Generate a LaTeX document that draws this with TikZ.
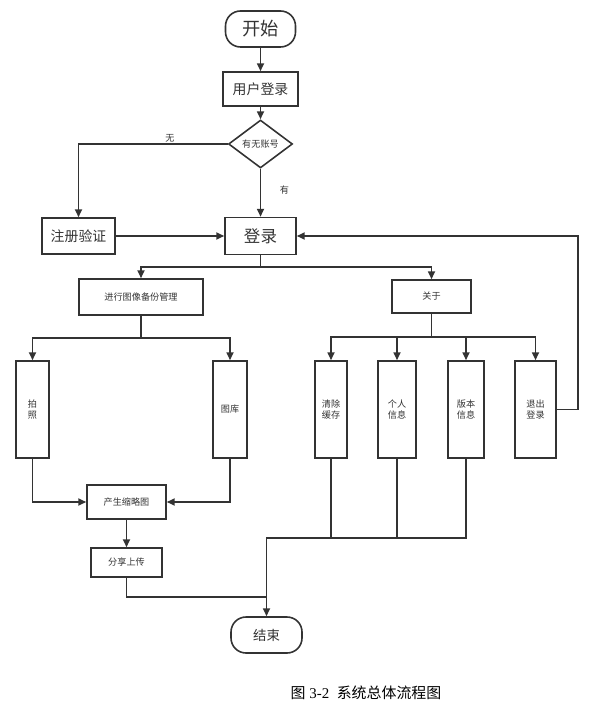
\documentclass[tikz,border=0pt]{standalone}
\usepackage{fontspec}
\setmainfont{Liberation Serif}
\newfontfamily\cjk{Noto Sans CJK SC}
\usetikzlibrary{shapes.geometric,arrows.meta}
\definecolor{ink}{HTML}{333333}

\begin{document}
\begin{tikzpicture}[
  box/.style={draw=ink,line width=0.9pt,inner sep=0pt,text=ink,align=center,
    font=\cjk\fontsize{5.2}{6.3}\selectfont},
  term/.style={box,rounded corners=0.3cm},
  link/.style={draw=ink,line width=0.9pt},
  arr/.style={link,-{Triangle[length=4.5pt,width=4pt]}}
]
  \useasboundingbox (0,0) rectangle (12.18,-14.36);

  % main column
  \node[term,minimum width=1.40cm,minimum height=0.72cm,
    font=\cjk\fontsize{10.4}{12}\selectfont] (start) at (5.21,-0.58) {开始};
  \node[box,minimum width=1.50cm,minimum height=0.68cm,
    font=\cjk\fontsize{7.9}{9}\selectfont] (user) at (5.21,-1.78) {用户登录};
  \node[box,diamond,aspect=1.33,minimum width=1.28cm,minimum height=0.96cm] (acct) at (5.21,-2.88) {有无账号};
  \node[box,minimum width=1.46cm,minimum height=0.72cm,
    font=\cjk\fontsize{7.9}{9}\selectfont] (reg) at (1.57,-4.72) {注册验证};
  \node[box,minimum width=1.42cm,minimum height=0.74cm,
    font=\cjk\fontsize{9.4}{11}\selectfont] (login) at (5.21,-4.72) {登录};
  \node[text=ink,font=\cjk\fontsize{5.2}{6.3}\selectfont] (no) at (3.40,-2.77) {无};
  \node[text=ink,font=\cjk\fontsize{5.2}{6.3}\selectfont] (yes) at (5.69,-3.80) {有};

  % image branch
  \node[box,minimum width=2.48cm,minimum height=0.72cm] (manage) at (2.82,-5.94) {进行图像备份管理};
  \node[box,minimum width=0.66cm,minimum height=1.94cm] (photo) at (0.65,-8.19) {拍\\照};
  \node[box,minimum width=0.68cm,minimum height=1.94cm] (gallery) at (4.60,-8.19) {图库};
  \node[box,minimum width=1.58cm,minimum height=0.68cm] (thumb) at (2.53,-10.04) {产生缩略图};
  \node[box,minimum width=1.42cm,minimum height=0.58cm] (share) at (2.53,-11.25) {分享上传};

  % about branch
  \node[box,minimum width=1.58cm,minimum height=0.66cm] (about) at (8.63,-5.93) {关于};
  \node[box,minimum width=0.64cm,minimum height=1.94cm] (clear) at (6.62,-8.19) {清除\\缓存};
  \node[box,minimum width=0.76cm,minimum height=1.94cm] (info) at (7.94,-8.19) {个人\\信息};
  \node[box,minimum width=0.72cm,minimum height=1.94cm] (ver) at (9.32,-8.19) {版本\\信息};
  \node[box,minimum width=0.82cm,minimum height=1.94cm] (quit) at (10.71,-8.19) {退出\\登录};

  \node[term,minimum width=1.42cm,minimum height=0.72cm,
    font=\cjk\fontsize{7.6}{9}\selectfont] (end) at (5.33,-12.70) {结束};

  \coordinate (s1) at (5.21,-5.34);
  \coordinate (s2) at (2.82,-6.76);
  \coordinate (s3) at (8.63,-6.74);
  \coordinate (m1) at (5.33,-10.76);
  \coordinate (m2) at (5.33,-11.94);
  \coordinate (back) at (11.56,-4.72);

  \draw[arr] (start) -- (user);
  \draw[arr] (user) -- (acct);
  \draw[arr] (acct.west) -| (reg.north);
  \draw[arr] (acct) -- (login);
  \draw[arr] (reg) -- (login);
  \draw[arr] (quit.east) -| (back) -- (login.east);

  \draw[link] (login) -- (s1);
  \draw[arr] (s1) -| (manage.north);
  \draw[arr] (s1) -| (about.north);

  \draw[link] (manage) -- (s2);
  \draw[arr] (s2) -| (photo.north);
  \draw[arr] (s2) -| (gallery.north);
  \draw[arr] (photo.south) |- (thumb.west);
  \draw[arr] (gallery.south) |- (thumb.east);
  \draw[arr] (thumb) -- (share);
  \draw[link] (share.south) |- (m2);

  \draw[link] (about) -- (s3);
  \foreach \n in {clear,info,ver,quit}
    \draw[arr] (s3) -| (\n.north);
  \draw[link] (clear.south) -- (clear.south |- m1);
  \draw[link] (info.south) -- (info.south |- m1);
  \draw[arr] (ver.south) |- (m1) -- (end.north);

  % caption
  \node[font=\fontsize{8.5}{10}\selectfont] (cap) at (7.32,-13.86) {{\cjk 图} 3-2\ \ {\cjk 系统总体流程图}};
\end{tikzpicture}
\end{document}
